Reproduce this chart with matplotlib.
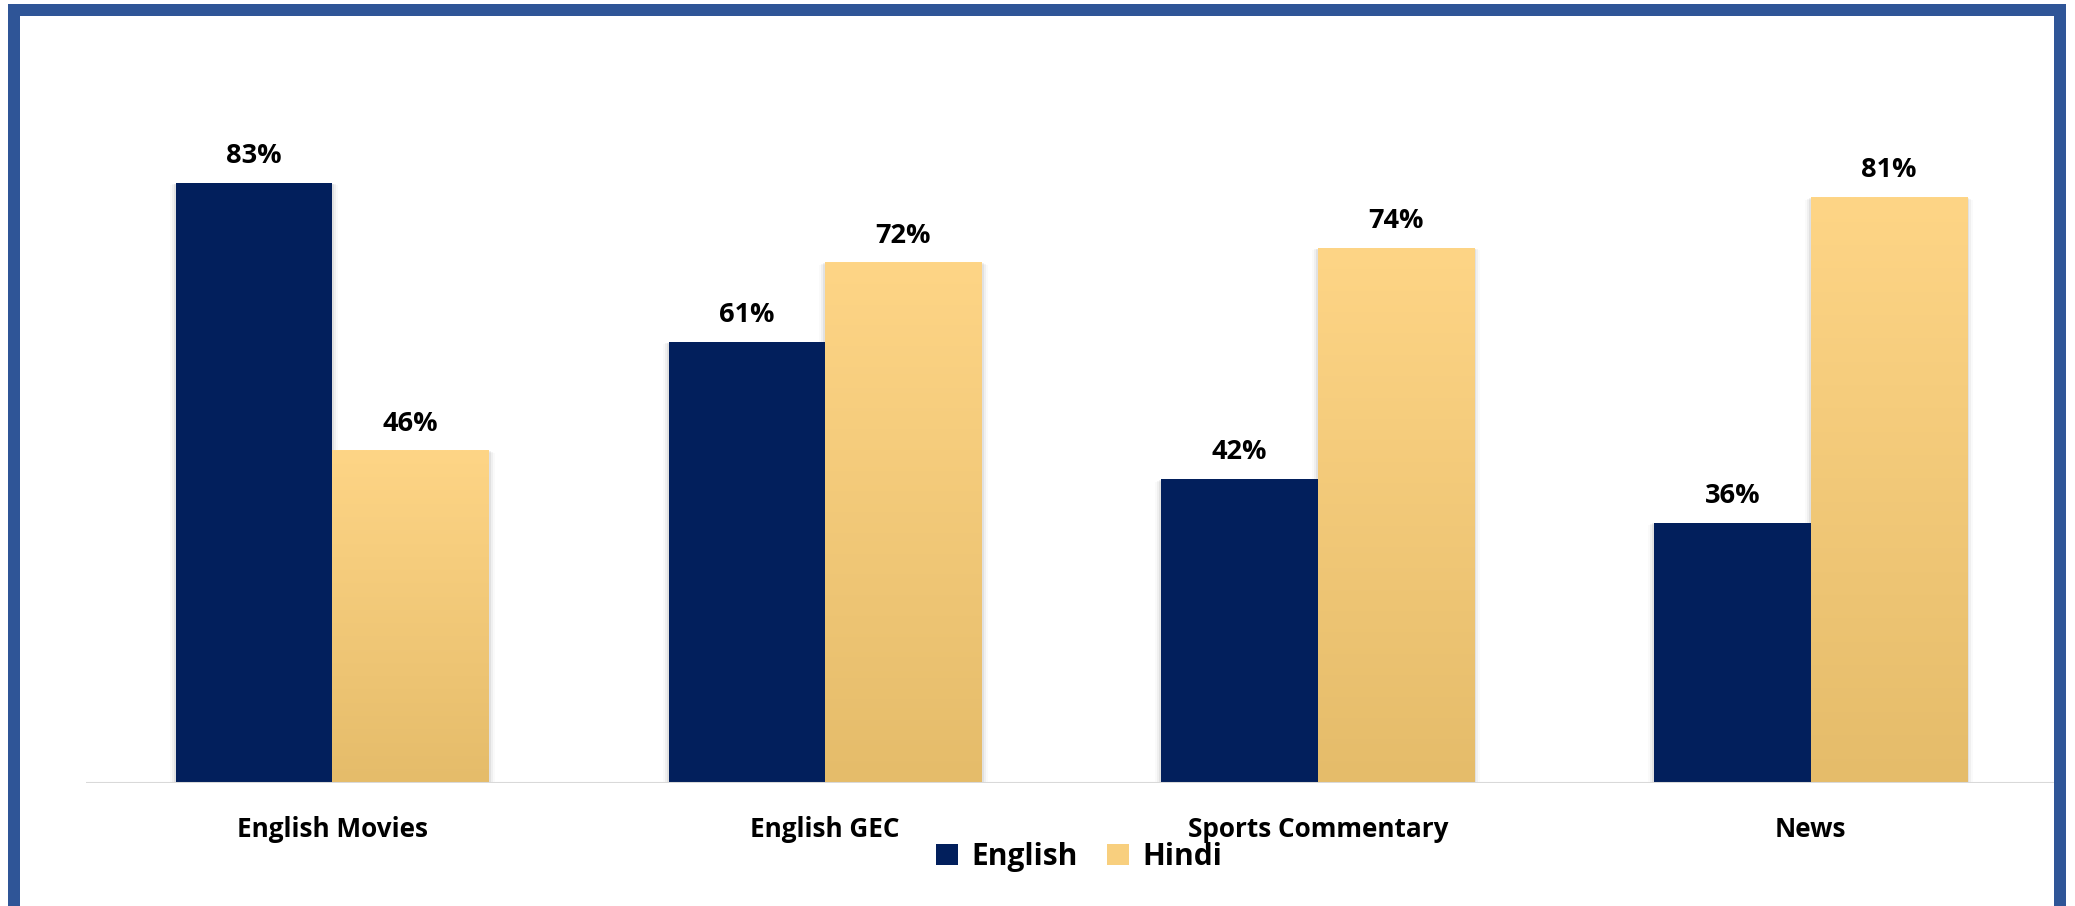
import numpy as np
import matplotlib
matplotlib.use("Agg")
import matplotlib.pyplot as plt
from matplotlib.patches import Rectangle, Patch
from matplotlib.colors import LinearSegmentedColormap

categories = ["English Movies", "English GEC", "Sports Commentary", "News"]
english = [83, 61, 42, 36]
hindi = [46, 72, 74, 81]
series_names = ["English", "Hindi"]

W, H, DPI = 2075, 906, 100
fig = plt.figure(figsize=(W / DPI, H / DPI), dpi=DPI)
fig.patch.set_facecolor("white")

# plot area in pixels
x0, x1 = 86, 2057
y_base, y_top = 783, 60
ax = fig.add_axes([x0 / W, (H - y_base) / H, (x1 - x0) / W, (y_base - y_top) / H])
ax.set_xlim(-0.5, len(categories) - 0.5)
ax.set_ylim(0, 100)

navy = "#021f5c"
gold_cmap = LinearSegmentedColormap.from_list("gold", ["#e5bc6a", "#fed586"])
bar_w = 0.3177
font = "Open Sans"

x = np.arange(len(categories))
eng_bars = ax.bar(x - bar_w / 2, english, width=bar_w, color=navy, zorder=3)
hin_bars = ax.bar(x + bar_w / 2, hindi, width=bar_w, color="none", zorder=3)

# vertical gradient inside each Hindi bar
grad = np.linspace(0, 1, 256).reshape(-1, 1)
for b in hin_bars:
    bx, by = b.get_x(), b.get_y()
    im = ax.imshow(grad, cmap=gold_cmap, origin="lower", aspect="auto",
                   extent=[bx, bx + b.get_width(), by, by + b.get_height()],
                   zorder=3, interpolation="bilinear")
    im.set_clip_path(b)

# soft shadow around the bars
for b in list(eng_bars) + list(hin_bars):
    for k, a in enumerate([0.06, 0.04, 0.02]):
        d = (k + 1) * 0.004
        ax.add_patch(Rectangle((b.get_x() - d, -0.6 * (k + 1)), b.get_width() + 2 * d,
                               b.get_height() + 0.5 * (k + 1), facecolor="black",
                               alpha=a, edgecolor="none", zorder=2))

for bars, vals in [(eng_bars, english), (hin_bars, hindi)]:
    for b, v in zip(bars, vals):
        ax.annotate(f"{v}%", (b.get_x() + b.get_width() / 2, v), xytext=(0, 10),
                    textcoords="offset points", ha="center", va="bottom",
                    fontsize=19.5, fontweight="bold", family=font, color="black")

ax.axhline(0, color="#d9d9d9", lw=2.2, zorder=4)
ax.set_xticks(x)
ax.set_xticklabels(categories, fontsize=18.8, fontweight="bold", family=font)
ax.tick_params(axis="x", length=0, pad=23.5)
ax.set_yticks([])
for s in ax.spines.values():
    s.set_visible(False)
ax.patch.set_alpha(0)

handles = [Patch(facecolor=navy), Patch(facecolor="#f8cf7e")]
fig.legend(handles, series_names, loc="center", bbox_to_anchor=(1079 / W, (H - 857) / H),
           ncol=2, frameon=False, handlelength=0.72, handleheight=0.72,
           columnspacing=1.0, handletextpad=0.45,
           prop={"family": font, "weight": "bold", "size": 21.5})

# outer frame
fig.add_artist(Rectangle((14 / W, -2 / H), (2060 - 14) / W, (H - 10 + 2) / H,
                         transform=fig.transFigure, fill=False,
                         edgecolor="#2f5597", lw=12 * 72 / DPI))

fig.savefig("out.png", dpi=DPI, facecolor="white")
